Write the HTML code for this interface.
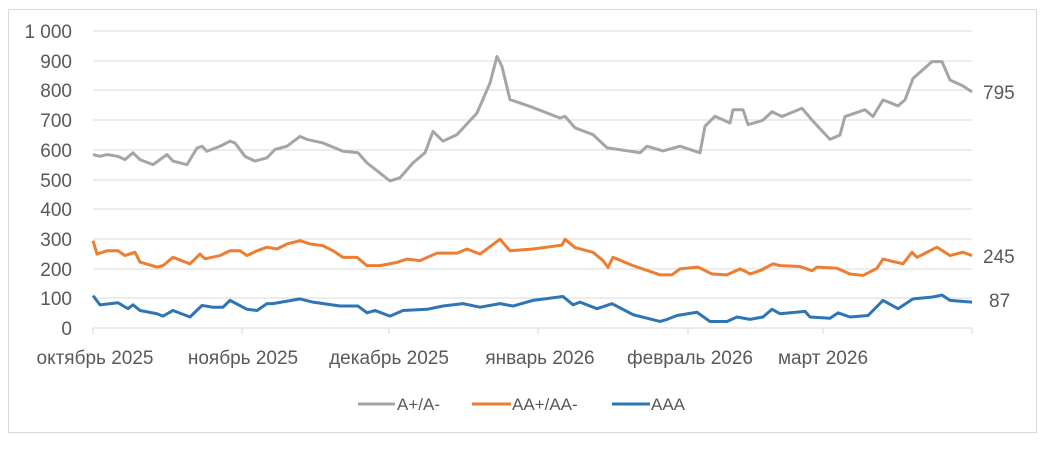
<!DOCTYPE html>
<html><head><meta charset="utf-8"><style>
body{margin:0;background:#fff;}
svg text{font-family:"Liberation Sans",sans-serif;fill:#595959;font-size:16px;}
svg .ax{font-size:19px;}
</style></head><body>
<svg width="1047" height="445" viewBox="0 0 1047 445" xmlns="http://www.w3.org/2000/svg">
<rect x="8.5" y="9.5" width="1028" height="423" fill="#fff" stroke="#d9d9d9"/>
<g stroke="#d9d9d9" stroke-width="1">
<line x1="93" x2="972" y1="31" y2="31"/><line x1="93" x2="972" y1="61" y2="61"/><line x1="93" x2="972" y1="90" y2="90"/><line x1="93" x2="972" y1="120" y2="120"/><line x1="93" x2="972" y1="150" y2="150"/><line x1="93" x2="972" y1="180" y2="180"/><line x1="93" x2="972" y1="209" y2="209"/><line x1="93" x2="972" y1="239" y2="239"/><line x1="93" x2="972" y1="269" y2="269"/><line x1="93" x2="972" y1="298" y2="298"/><line x1="93" x2="972" y1="328" y2="328"/>
<line x1="93" x2="93" y1="328" y2="334"/><line x1="242" x2="242" y1="328" y2="334"/><line x1="389" x2="389" y1="328" y2="334"/><line x1="538" x2="538" y1="328" y2="334"/><line x1="688" x2="688" y1="328" y2="334"/><line x1="823" x2="823" y1="328" y2="334"/><line x1="972" x2="972" y1="328" y2="334"/>
</g>
<g text-anchor="end">
<text class="ax" x="72" y="38">1 000</text><text class="ax" x="72" y="68">900</text><text class="ax" x="72" y="97">800</text><text class="ax" x="72" y="127">700</text><text class="ax" x="72" y="157">600</text><text class="ax" x="72" y="187">500</text><text class="ax" x="72" y="216">400</text><text class="ax" x="72" y="246">300</text><text class="ax" x="72" y="276">200</text><text class="ax" x="72" y="305">100</text><text class="ax" x="72" y="335">0</text>
</g>
<g text-anchor="middle">
<text class="ax" x="95" y="364">октябрь 2025</text><text class="ax" x="243" y="364">ноябрь 2025</text><text class="ax" x="389" y="364">декабрь 2025</text><text class="ax" x="540" y="364">январь 2026</text><text class="ax" x="690" y="364">февраль 2026</text><text class="ax" x="823" y="364">март 2026</text>
</g>
<text class="ax" x="983" y="99">795</text><text class="ax" x="983" y="263">245</text><text class="ax" x="989" y="307">87</text>
<g transform="translate(0,328) scale(1,-0.297)" fill="none" stroke-width="3" stroke-linejoin="round">
<polyline vector-effect="non-scaling-stroke" stroke="#a5a5a5" points="93,584 100,578 107,584 118,578 125,567 133,590 140,567 153,550 167,584 173,562 187,550 197,606 202,612 207,595 220,612 230,629 235,623 245,578 255,562 267,573 275,601 287,612 300,645 307,635 323,623 343,595 358,590 367,556 390,495 400,506 413,556 425,590 433,662 443,629 457,651 477,724 490,825 497,914 502,880 510,769 530,746 560,707 565,713 575,674 593,651 607,607 640,590 647,612 663,596 680,612 700,590 705,679 715,713 730,690 733,735 743,735 748,685 760,696 763,700 772,728 782,712 802,740 812,700 830,635 840,650 845,712 865,735 873,712 883,768 898,748 905,768 913,840 932,897 942,897 950,835 963,815 972,795"/>
<polyline vector-effect="non-scaling-stroke" stroke="#ed7d31" points="93,294 97,249 107,260 118,260 125,244 135,255 140,222 157,205 163,210 173,238 190,216 200,249 205,233 220,244 230,260 240,260 247,244 257,260 267,272 277,266 287,283 300,294 310,283 323,277 333,260 343,238 357,238 367,210 380,210 397,221 407,232 420,227 437,252 457,252 467,266 480,249 500,299 510,260 533,266 562,279 565,299 575,271 593,255 603,227 608,204 613,238 633,210 660,179 672,179 680,199 698,205 712,182 727,179 740,199 747,188 750,182 760,193 773,216 780,210 800,207 812,193 817,205 837,201 850,182 863,177 877,201 883,232 903,216 912,255 917,238 937,272 950,244 963,255 972,244"/>
<polyline vector-effect="non-scaling-stroke" stroke="#2e75b6" points="93,109 100,78 118,85 128,65 133,78 140,59 157,48 163,40 173,59 190,37 202,76 213,70 223,70 230,93 247,63 257,59 267,82 273,82 300,98 313,87 340,74 358,74 367,51 375,59 390,40 403,59 427,63 443,74 463,82 480,70 500,82 513,74 533,93 563,106 573,78 580,87 597,65 612,82 633,45 660,22 667,29 677,42 697,53 710,22 727,22 737,37 750,29 763,37 772,63 780,48 805,56 810,37 830,33 838,51 850,37 868,42 883,93 898,65 913,98 932,104 942,111 950,93 972,87"/>
</g>
<line x1="358" x2="395" y1="404" y2="404" stroke="#a5a5a5" stroke-width="3"/>
<text x="397" y="410" style="font-size:17px">A+/A-</text>
<line x1="472" x2="511" y1="404" y2="404" stroke="#ed7d31" stroke-width="3"/>
<text x="512" y="410" style="font-size:17px">AA+/AA-</text>
<line x1="612" x2="650" y1="404" y2="404" stroke="#2e75b6" stroke-width="3"/>
<text x="651" y="410" style="font-size:17px">AAA</text>
</svg>
</body></html>
